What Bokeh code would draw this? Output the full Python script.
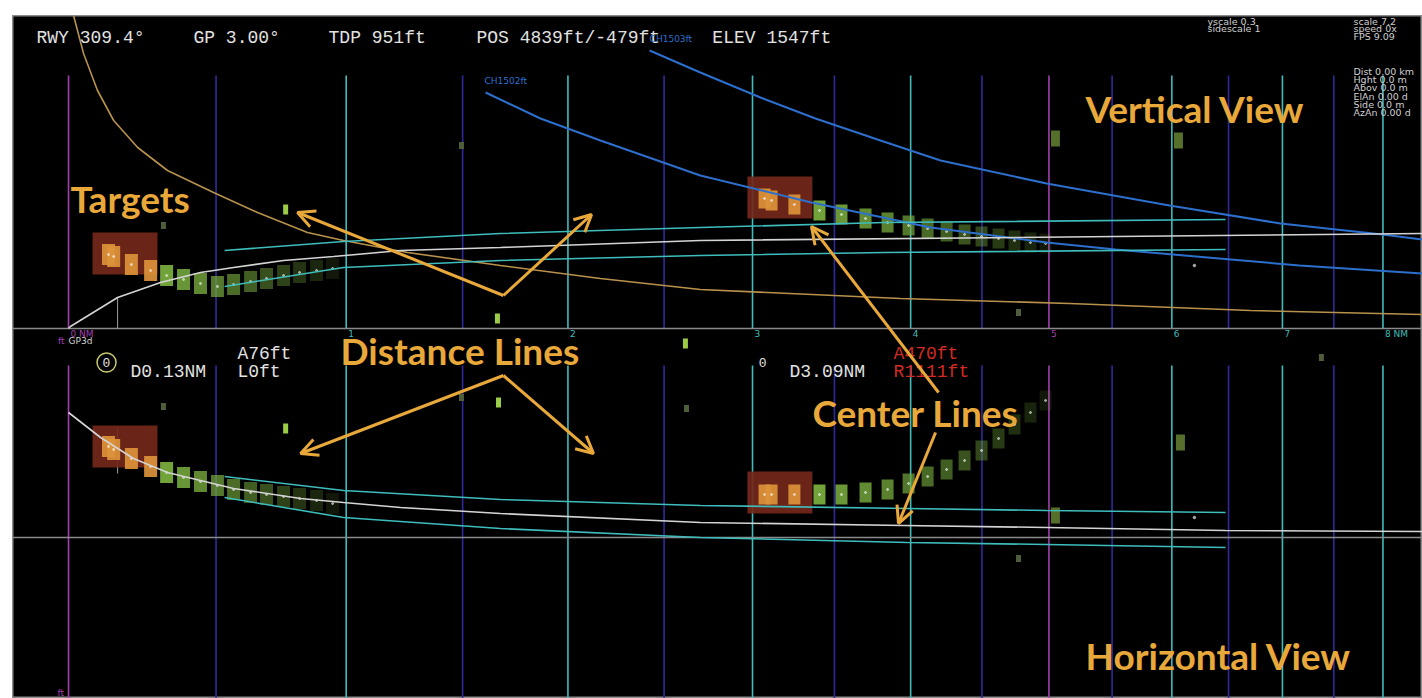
import numpy as np
from bokeh.plotting import figure
from bokeh.layouts import column, row
from bokeh.models import Range1d, Arrow, OpenHead, ColumnDataSource, Spacer
from bokeh.core.properties import value
from bokeh.embed import file_html
from bokeh.resources import INLINE

# ------------------------------------------------------------------ data
NM_OFFSET = 3.5            # display axis is log(distance + offset)
X_LEFT_NM, X_RIGHT_NM = -0.173, 8.419
Y_TOP = 683
Y_VBASE = 370              # baseline of the vertical view
Y_HBASE = 161              # centre of the horizontal view

grid_nm = [0, 0.5, 1, 1.5, 2, 2.5, 3, 3.5, 4, 4.5, 5, 5.5, 6, 6.5, 7, 7.5, 8]
tick_nm = [0, 1, 2, 3, 4, 5, 6, 7, 8]
tick_labels = ["0 NM", "1", "2", "3", "4", "5", "6", "7", "8 NM"]

# vertical view (units above baseline)
v_glide_nm = [0, 0.006, 0.159, 0.304, 0.444, 0.564, 0.752, 0.949, 1.227, 1.674, 2.700, 5.528, 8.419]
v_glide_y = [0, 2, 31, 46, 56, 61, 68, 72, 78, 81, 88, 92, 95]
v_cyan_nm = [0.531, 0.989, 1.674, 2.700, 3.825, 6.473]
v_cyan_hi = [78, 87, 95, 101, 106, 109]
v_cyan_lo = [42, 61, 68, 73, 76, 79]
v_orange_nm = [0.016, 0.048, 0.093, 0.146, 0.226, 0.328, 0.491, 0.653, 0.845, 0.989,
               1.257, 1.674, 2.164, 2.700, 3.931, 5.160, 6.701, 8.419]
v_orange_y = [313, 275, 238, 208, 181, 158, 136, 116, 96, 88, 76, 63, 50, 39, 30, 25, 18, 14]
v_blue1_nm = [1.605, 1.865, 2.164, 2.700, 3.356, 4.136, 4.982, 5.528, 6.311, 7.163, 8.419]
v_blue1_y = [236, 210, 188, 153, 126, 101, 86, 79, 71, 63, 55]
v_blue2_nm = [2.422, 2.700, 3.047, 3.381, 3.798, 4.206, 4.982, 5.980, 6.981, 7.995, 8.419]
v_blue2_y = [278, 256, 231, 210, 188, 168, 145, 123, 105, 94, 89]

# horizontal view (units from centre line)
h_glide_nm = [0, 0.103, 0.212, 0.328, 0.444, 0.564, 0.818, 0.989, 1.227, 1.674, 2.700, 3.952, 4.982, 6.473, 8.419]
h_glide_y = [125, 100, 79, 65, 57, 49, 39, 35, 30, 24, 15, 12, 10, 7, 6]
h_cyan_nm = [0.531, 0.989, 1.674, 2.700, 3.979, 4.982, 6.473]
h_cyan_hi = [61, 47, 38, 32, 29, 27, 25]
h_cyan_lo = [40, 20, 9, 0, -5, -7, -10]

# target tracks
t1_nm = [0.129, 0.146, 0.205, 0.270, 0.325, 0.384, 0.444, 0.505, 0.564, 0.627, 0.687, 0.752, 0.814, 0.881, 0.945]
t1_v = [74, 72, 64, 58, 53, 49, 45, 42, 44, 47, 50, 53, 56, 58, 60]
t1_h = [91, 88, 79, 71, 65, 60, 56, 52, 48, 45, 43, 41, 39, 37, 34]
t1_in_box = 4
t2_nm = [3.071, 3.113, 3.251, 3.406, 3.545, 3.700, 3.845, 3.986, 4.116, 4.248, 4.375, 4.497, 4.621, 4.739, 4.859, 4.974]
t2_v = [130, 128, 124, 118, 114, 110, 106, 103, 100, 97, 94, 92, 90, 88, 86, 85]
t2_h = [43, 43, 43, 43, 43, 45, 48, 54, 61, 68, 77, 87, 99, 113, 125, 137]
t2_in_box = 3

# highlight boxes: (left_nm, right_nm), (bottom, top)
box1_nm = [0.0769, 0.2934]
box2_nm = [2.970, 3.362]
box_v1 = [54, 96]
box_v2 = [110, 152]
box_h1 = [70, 112]
box_h2 = [24, 66]

# stray returns
v_bright_nm, v_bright_y = [0.760, 1.660], [119, 10]
v_dim_nm, v_dim_y = [0.314, 1.495, 4.769], [103, 183, 16]
v_big_nm, v_big_y = [5.050, 6.057], [190, 188]
h_bright_nm, h_bright_y = [0.760, 1.665, 2.617], [109, 135, 194]
h_dim_nm, h_dim_y = [0.314, 1.495, 2.623, 4.769, 7.377], [131, 140, 129, -21, 180]
h_big_nm, h_big_y = [6.074, 5.050], [95, 22]
dot_nm, dot_v, dot_h = [6.196], [63], [20]

# threshold markers
tdp_nm = 0.159
tdp_v = [0, 31]
tdp_h = [64, 110]

# texts
hdr_text = ["RWY 309.4°", "GP 3.00°", "TDP 951ft", "POS 4839ft/-479ft", "ELEV 1547ft"]
hdr_nm = [-0.0999, 0.419, 0.9286, 1.563, 2.768]
ch_text = ["CH1503ft", "CH1502ft"]
ch_nm = [2.422, 1.600]
ch_y = [660, 618]
info1_text = ["yscale 0.3", "sidescale 1"]
info2_text = ["scale 7.2", "speed 0x", "FPS 9.09"]
info3_text = ["Dist 0.00 km", "Hght 0.0 m", "Abov 0.0 m", "ElAn 0.00 d", "Side 0.0 m", "AzAn 0.00 d"]
info1_nm, info2_nm = 6.311, 7.697
info_y = [677, 670, 662]
info3_y = [627, 619, 611, 602, 594, 586]

lbl_w_text = ["A76ft", "L0ft", "D0.13NM", "D3.09NM"]
lbl_w_nm = [0.578, 0.578, 0.202, 3.221]
lbl_w_y = [345, 327, 327, 327]
lbl_r_text = ["A470ft", "R1111ft"]
lbl_r_nm = [3.885, 3.885]
lbl_r_y = [345, 327]
zero_nm = [0.1225, 3.060]
zero_y = [336, 336]

note_text = ["Vertical View", "Horizontal View", "Targets", "Distance Lines", "Center Lines"]
note_nm = [5.286, 5.286, 0.0063, 0.977, 3.362]
note_y = [590, 43, 500, 348, 286]

arrow_x0 = [1.688, 1.688, 1.688, 1.688, 4.192, 4.171]
arrow_y0 = [403, 403, 323, 323, 306, 266]
arrow_x1 = [0.806, 2.119, 0.818, 2.129, 3.356, 3.918]
arrow_y1 = [486, 484, 245, 245, 472, 175]

# ------------------------------------------------------------------ styles
CYAN = "#3fbcbc"
DBLUE = "#2e2a9e"
MAGENTA = "#a23fae"
WHITE = "#d4d4d4"
TAN = "#b8924c"
BLUE = "#2d6fcc"
ORANGE = "#e8a83a"
GREEN = "#78ac3e"
TGT_ORANGE = "#dc923a"
BOX = "#74271a"
MONO = value("Liberation Mono")
SANS = value("DejaVu Sans")


def U(nm):
    return np.asarray(nm, dtype=float) + NM_OFFSET


def V(y):
    return np.asarray(y, dtype=float) + Y_VBASE


def H(y):
    return np.asarray(y, dtype=float) + Y_HBASE


p = figure(width=1410, height=683, x_axis_type="log",
           x_range=Range1d(X_LEFT_NM + NM_OFFSET, X_RIGHT_NM + NM_OFFSET),
           y_range=Range1d(0, Y_TOP),
           x_axis_location=None, y_axis_location=None,
           toolbar_location=None, output_backend="svg",
           min_border=0,
           background_fill_color="black", border_fill_color="black",
           outline_line_color="#8c8c8c", outline_line_width=2)
p.grid.visible = False

# distance lines
gcol = []
for d in grid_nm:
    if d in (0, 5):
        gcol.append(MAGENTA)
    elif float(d).is_integer():
        gcol.append(CYAN)
    else:
        gcol.append(DBLUE)
n = len(grid_nm)
p.segment(x0=U(grid_nm), y0=[Y_VBASE] * n, x1=U(grid_nm), y1=[Y_VBASE + 253] * n,
          line_color=gcol, line_width=1.6)
p.segment(x0=U(grid_nm), y0=[0] * n, x1=U(grid_nm), y1=[Y_HBASE + 172] * n,
          line_color=gcol, line_width=1.6)

# baselines
p.line(U([X_LEFT_NM, X_RIGHT_NM]), V([0, 0]), line_color="#8a8a8a", line_width=1.5)
p.line(U([X_LEFT_NM, X_RIGHT_NM]), H([0, 0]), line_color="#8a8a8a", line_width=1.5)
p.line(U([tdp_nm, tdp_nm]), V(tdp_v), line_color="#a0a0a0", line_width=1)
p.line(U([tdp_nm, tdp_nm]), H(tdp_h), line_color="#a0a0a0", line_width=1)

# highlight boxes
for (l, r), (b, t), f in [(box1_nm, box_v1, V), (box2_nm, box_v2, V),
                          (box1_nm, box_h1, H), (box2_nm, box_h2, H)]:
    p.quad(left=U([l]), right=U([r]), bottom=f([b]), top=f([t]),
           fill_color=BOX, fill_alpha=0.92, line_color=None)


def track(nm, ys, f, n_box, w, h):
    k = len(nm)
    cols = [TGT_ORANGE] * n_box + [GREEN] * (k - n_box)
    alph = [0.92] * n_box + list(np.linspace(0.95, 0.14, k - n_box))
    p.rect(U(nm), f(ys), width=w, height=h, width_units="screen", height_units="screen",
           fill_color=cols, fill_alpha=alph, line_color=None)
    p.scatter(U(nm), f(ys), size=2, color="white", alpha=0.55)


track(t1_nm, t1_v, V, t1_in_box, 13, 21)
track(t1_nm, t1_h, H, t1_in_box, 13, 21)
track(t2_nm, t2_v, V, t2_in_box, 12, 20)
track(t2_nm, t2_h, H, t2_in_box, 12, 20)

# stray returns
for nm, ys, f in [(v_bright_nm, v_bright_y, V), (h_bright_nm, h_bright_y, H)]:
    p.rect(U(nm), f(ys), width=5, height=10, width_units="screen", height_units="screen",
           fill_color="#9bcc48", line_color=None)
for nm, ys, f in [(v_dim_nm, v_dim_y, V), (h_dim_nm, h_dim_y, H)]:
    p.rect(U(nm), f(ys), width=5, height=7, width_units="screen", height_units="screen",
           fill_color="#4f5e3a", line_color=None)
for nm, ys, f in [(v_big_nm, v_big_y, V), (h_big_nm, h_big_y, H)]:
    p.rect(U(nm), f(ys), width=9, height=16, width_units="screen", height_units="screen",
           fill_color="#56702c", line_color=None)
p.scatter(U(dot_nm), V(dot_v), size=2.5, color="#b0b0b0")
p.scatter(U(dot_nm), H(dot_h), size=2.5, color="#b0b0b0")

# curves
p.line(U(v_orange_nm), V(v_orange_y), line_color=TAN, line_width=1.6)
p.line(U(v_blue1_nm), V(v_blue1_y), line_color=BLUE, line_width=2)
p.line(U(v_blue2_nm), V(v_blue2_y), line_color=BLUE, line_width=2)
p.line(U(v_cyan_nm), V(v_cyan_hi), line_color=CYAN, line_width=1.6)
p.line(U(v_cyan_nm), V(v_cyan_lo), line_color=CYAN, line_width=1.6)
p.line(U(v_glide_nm), V(v_glide_y), line_color=WHITE, line_width=1.6)
p.line(U(h_cyan_nm), H(h_cyan_hi), line_color=CYAN, line_width=1.6)
p.line(U(h_cyan_nm), H(h_cyan_lo), line_color=CYAN, line_width=1.6)
p.line(U(h_glide_nm), H(h_glide_y), line_color=WHITE, line_width=1.6)

# distance labels
tcol = [MAGENTA if d in (0, 5) else CYAN for d in tick_nm]
p.text(U(tick_nm), [Y_VBASE - 5] * len(tick_nm), text=tick_labels, text_color=tcol,
       text_font=SANS, text_font_size="9px", text_baseline="middle", text_align="left",
       x_offset=2)
p.text(U([-0.0315]), V([-12]), text=["ft"], text_color=MAGENTA, text_font=SANS,
       text_font_size="9px", text_baseline="middle", text_align="right", x_offset=6)
p.text(U([0]), V([-12]), text=["GP3d"], text_color=WHITE, text_font=SANS,
       text_font_size="9px", text_baseline="middle", text_align="left", x_offset=0)
p.text(U([-0.0347]), [6], text=["ft"], text_color=MAGENTA, text_font=SANS,
       text_font_size="9px", text_baseline="middle", text_align="left")

# header
p.text(U(hdr_nm), [661] * len(hdr_nm), text=hdr_text, text_color="#e2e2e2", text_font=MONO,
       text_font_size="18px", text_baseline="middle", text_align="left")
p.text(U(ch_nm), ch_y, text=ch_text, text_color=BLUE, text_font=SANS,
       text_font_size="9px", text_baseline="middle", text_align="left")
p.text(U([info1_nm] * 2), info_y[:2], text=info1_text, text_color="#cfcfcf", text_font=SANS,
       text_font_size="9.5px", text_baseline="middle", text_align="left")
p.text(U([info2_nm] * 3), info_y, text=info2_text, text_color="#cfcfcf", text_font=SANS,
       text_font_size="9.5px", text_baseline="middle", text_align="left")
p.text(U([info2_nm] * 6), info3_y, text=info3_text, text_color="#cfcfcf", text_font=SANS,
       text_font_size="9.5px", text_baseline="middle", text_align="left")

# horizontal-view readouts
p.scatter(U(zero_nm[:1]), zero_y[:1], size=19, fill_color=None, line_color="#c8c870",
          line_width=1.5)
p.text(U(zero_nm), zero_y, text=["0", "0"], text_color="#e2e2e2", text_font=MONO,
       text_font_size="13px", text_baseline="middle", text_align="center")
p.text(U(lbl_w_nm), lbl_w_y, text=lbl_w_text, text_color="#e2e2e2", text_font=MONO,
       text_font_size="18px", text_baseline="middle", text_align="left")
p.text(U(lbl_r_nm), lbl_r_y, text=lbl_r_text, text_color="#d42a22", text_font=MONO,
       text_font_size="18px", text_baseline="middle", text_align="left")

# annotations
src = ColumnDataSource(dict(x0=U(arrow_x0), y0=arrow_y0, x1=U(arrow_x1), y1=arrow_y1))
p.add_layout(Arrow(end=OpenHead(size=17, line_color=ORANGE, line_width=3), source=src,
                   x_start="x0", y_start="y0", x_end="x1", y_end="y1",
                   line_color=ORANGE, line_width=3))
p.text(U(note_nm), note_y, text=note_text, text_color=ORANGE, text_font=value("Lato"),
       text_font_style="bold", text_font_size="37px", text_baseline="middle",
       text_align="left")

page = column(Spacer(height=15), row(Spacer(width=12), p, spacing=0), spacing=0)
open("out.html", "w").write(file_html(page, INLINE))
